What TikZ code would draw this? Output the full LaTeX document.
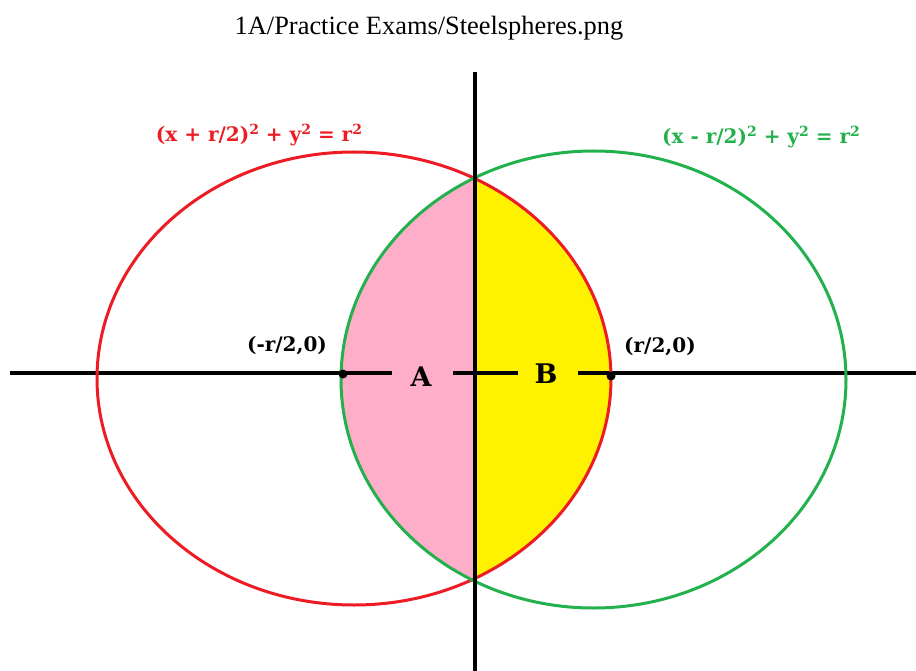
\documentclass[tikz,border=0pt]{standalone}
\usepackage{fontspec}
\setmainfont{Liberation Serif}
\newfontfamily\lblfont{DejaVu Serif}
\definecolor{pred}{HTML}{ED1C24}
\definecolor{pgreen}{HTML}{22B14C}
\definecolor{ppink}{HTML}{FFAEC9}
\definecolor{pyellow}{HTML}{FFF200}
\newcommand\sqr{\raisebox{0.6ex}{\fontsize{14}{14}\selectfont 2}}
\begin{document}
\begin{tikzpicture}[x=1pt,y=-1pt,
  axis/.style={line width=3.5pt,black},
  curve/.style={line width=3pt},
  lbl/.style={font=\lblfont\bfseries\fontsize{20}{22}\selectfont,inner sep=0pt},
  region/.style={font=\lblfont\bfseries\fontsize{27}{30}\selectfont,inner sep=0pt},
  dotpt/.style={circle,fill=black,inner sep=0pt,minimum size=9pt}]
\useasboundingbox (0,0) rectangle (916,671);
% coordinates
\coordinate (rc) at (354,378.5);
\coordinate (gc) at (593.5,379.5);
\coordinate (hl) at (10,373);
\coordinate (ha1) at (392,373);
\coordinate (ha2) at (453,373);
\coordinate (hb1) at (518,373);
\coordinate (hb2) at (578,373);
\coordinate (hr) at (916,373);
\coordinate (vt) at (475,72);
\coordinate (vb) at (475,671);
% fills
\begin{scope}
  \clip (0,0) rectangle (475,671);
  \fill[ppink] (gc) ellipse [x radius=252.5pt, y radius=228.5pt];
\end{scope}
\begin{scope}
  \clip (475,0) rectangle (916,671);
  \fill[pyellow] (rc) ellipse [x radius=257pt, y radius=226.5pt];
\end{scope}
% horizontal axis
\draw[axis] (hl) -- (ha1);
\draw[axis] (ha2) -- (hb1);
\draw[axis] (hb2) -- (hr);
% ellipses
\draw[curve,pred] (rc) ellipse [x radius=257pt, y radius=226.5pt];
\draw[curve,pgreen] (gc) ellipse [x radius=252.5pt, y radius=228.5pt];
% vertical axis
\draw[axis] (vt) -- (vb);
% points
\node[dotpt] (pl) at (343,374) {};
\node[dotpt] (pr) at (611,376) {};
% labels
\node (title) at (429,28) {\fontsize{26.4}{28}\selectfont 1A/Practice Exams/Steelspheres.png};
\node[lbl,text=pred] (eqr) at (259,135) {(x + r/2)\sqr{} + y\sqr{} = r\sqr};
\node[lbl,text=pgreen] (eqg) at (761,137) {(x - r/2)\sqr{} + y\sqr{} = r\sqr};
\node[lbl] (ml) at (287,346) {(-r/2,0)};
\node[lbl] (mr) at (660,347) {(r/2,0)};
\node[region] (A) at (421,377) {A};
\node[region] (B) at (546,374) {B};
\end{tikzpicture}
\end{document}
